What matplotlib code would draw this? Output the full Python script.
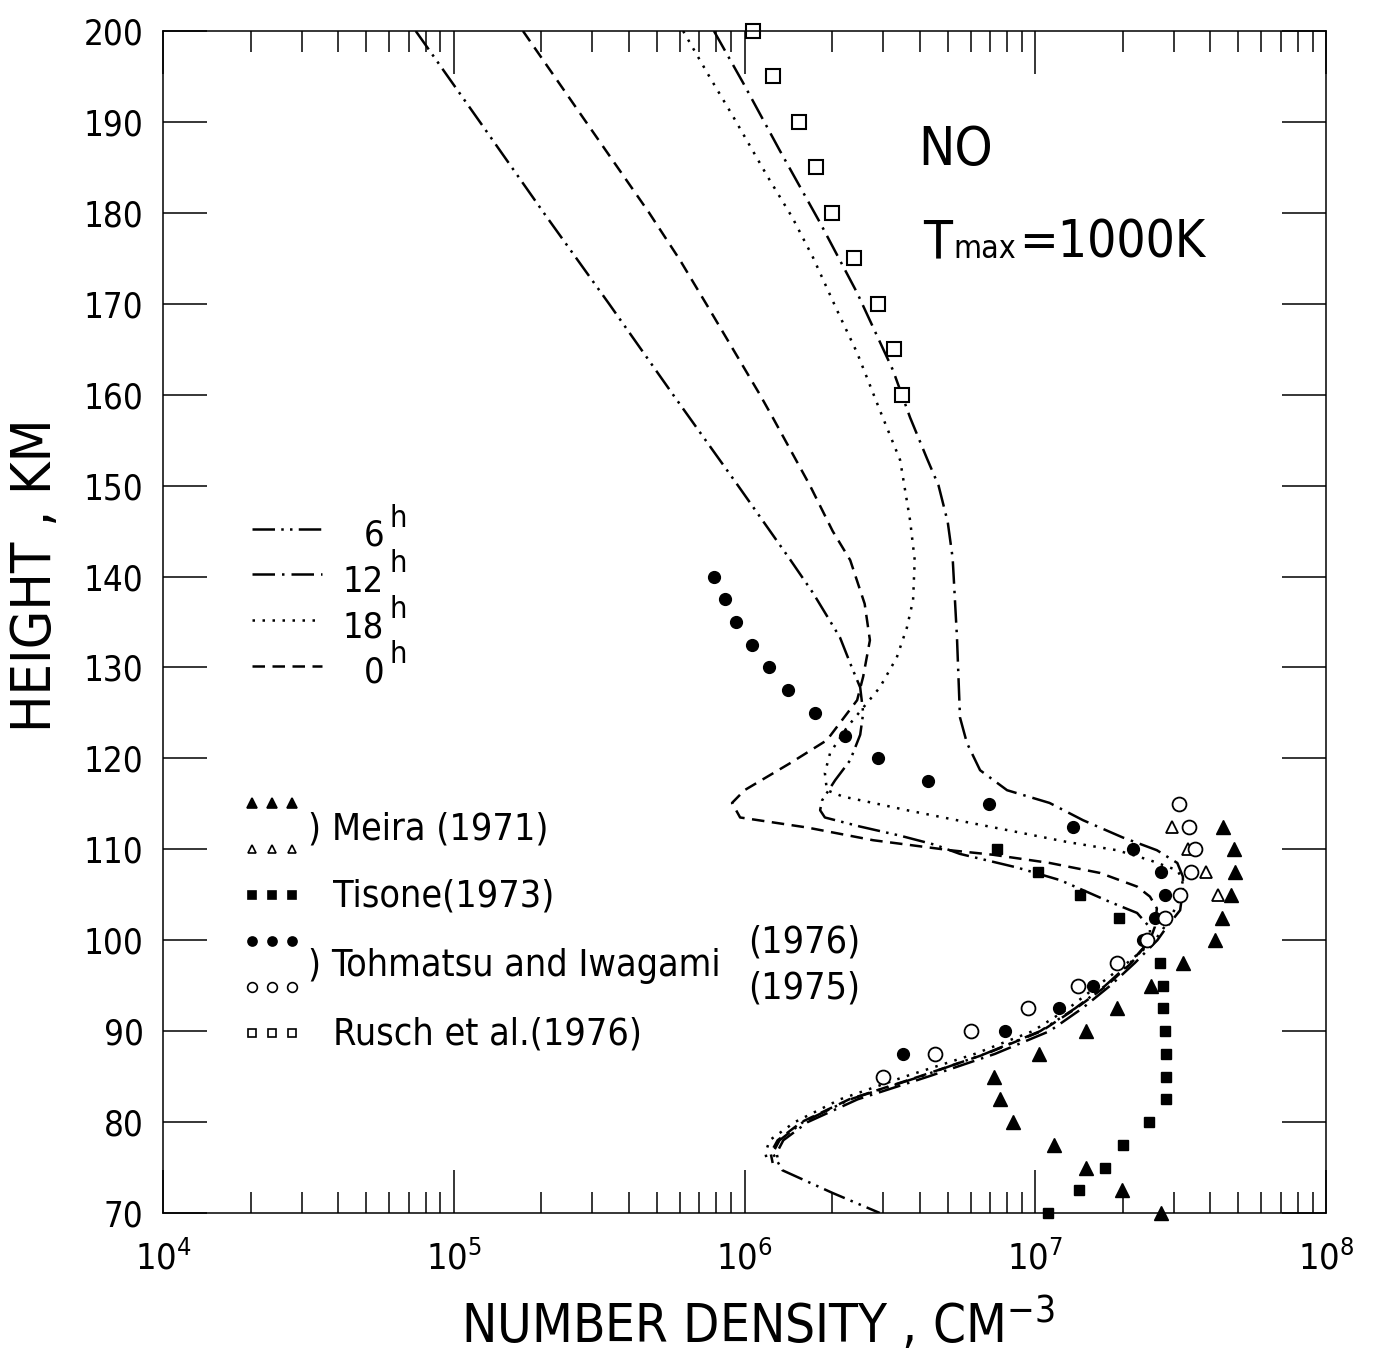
import numpy as np
import matplotlib
matplotlib.use("Agg")
import matplotlib.pyplot as plt
from matplotlib import font_manager

# ---- model NO profiles: height (km) and number density (cm^-3) ----
h_6h = [200, 190, 180, 170, 160, 150, 141.8, 138.2, 133.3, 130, 127.8, 125, 122.6,
        119.8, 117.6, 115.4, 114.3, 113.5, 112.5, 111.5, 110.5, 109.5, 108, 106.6,
        104.2, 103, 101.4, 100, 97.5, 95, 92.5, 90, 87.5, 85, 82.5, 80, 78, 76.6,
        74.7, 72.2, 70]
n_6h = [7.4e4, 1.23e5, 2.04e5, 3.42e5, 5.68e5, 9.5e5, 1.44e6, 1.72e6, 2.13e6, 2.34e6,
        2.5e6, 2.56e6, 2.5e6, 2.31e6, 2.05e6, 1.85e6, 1.82e6, 1.89e6, 2.5e6, 3.43e6,
        4.52e6, 5.5e6, 8.65e6, 1.22e7, 1.81e7, 2.24e7, 2.48e7, 2.48e7, 2.12e7, 1.74e7,
        1.37e7, 1.04e7, 6.71e6, 4.02e6, 2.31e6, 1.59e6, 1.32e6, 1.25e6, 1.35e6, 2.01e6,
        2.92e6]

h_12h = [200, 194.3, 186.9, 178.9, 171.2, 162.7, 157.5, 153, 150, 146, 142, 133.3,
         124.5, 121.7, 118.7, 116.5, 115.1, 113.2, 111.3, 109.9, 108.5, 107, 105.5,
         103.3, 101.5, 100, 97.5, 95, 92.5, 90, 87.5, 85, 82.5, 80, 78, 76.6, 75.5]
n_12h = [7.85e5, 9.89e5, 1.32e6, 1.82e6, 2.44e6, 3.24e6, 3.71e6, 4.24e6, 4.65e6,
         5.0e6, 5.2e6, 5.38e6, 5.51e6, 5.82e6, 6.46e6, 8.0e6, 1.12e7, 1.46e7, 2.0e7,
         2.62e7, 3.08e7, 3.22e7, 3.22e7, 3.15e7, 2.84e7, 2.63e7, 2.2e7, 1.81e7,
         1.45e7, 1.12e7, 7.27e6, 4.28e6, 2.45e6, 1.65e6, 1.36e6, 1.29e6, 1.31e6]

h_18h = [200, 194.9, 190.8, 184, 179.5, 175.1, 169.3, 164.6, 158.3, 152.8, 146.2, 141.8,
         137.4, 134.4, 131.1, 127.8, 126.1, 123.4, 120.6, 118.4, 116.5, 115.8, 115.1,
         114.3, 113.2, 112.1, 110.8, 109.9, 108.8, 108.1, 107.7, 106.6, 104, 102, 100,
         97.5, 95, 92.5, 90, 87.5, 85, 82.5, 80, 78, 76.6, 75.5]
n_18h = [6.15e5, 7.6e5, 9.06e5, 1.2e6, 1.46e6, 1.72e6, 2.08e6, 2.44e6, 2.92e6, 3.43e6,
         3.71e6, 3.85e6, 3.8e6, 3.62e6, 3.34e6, 2.92e6, 2.64e6, 2.25e6, 1.97e6, 1.89e6,
         1.92e6, 2.18e6, 2.77e6, 3.62e6, 5.38e6, 8.05e6, 1.29e7, 1.91e7, 2.48e7, 2.84e7,
         3.08e7, 3.22e7, 3.09e7, 2.86e7, 2.58e7, 2.07e7, 1.64e7, 1.3e7, 9.8e6, 6.2e6,
         3.56e6, 2.13e6, 1.49e6, 1.22e6, 1.18e6, 1.2e6]

h_0h = [200, 190, 180, 174.8, 170, 160, 157.5, 150, 145, 141.8, 137, 133, 129, 126.4,
        122, 119.5, 116.5, 115.1, 113.5, 112.4, 111, 109.9, 109.4, 108.5, 107.4, 105.9,
        104.8, 103.5, 101.5, 100, 97.5, 95, 92.5, 90, 87.5, 85, 82.5, 80, 78, 76.6, 75.5]
n_0h = [1.73e5, 2.85e5, 4.7e5, 6.0e5, 7.38e5, 1.13e6, 1.25e6, 1.68e6, 2.01e6, 2.31e6,
        2.59e6, 2.7e6, 2.56e6, 2.44e6, 1.92e6, 1.44e6, 1.0e6, 9.06e5, 9.66e5, 1.64e6,
        2.77e6, 5.09e6, 7.16e6, 1.12e7, 1.67e7, 2.24e7, 2.48e7, 2.62e7, 2.58e7, 2.48e7,
        2.14e7, 1.76e7, 1.38e7, 1.05e7, 6.76e6, 3.98e6, 2.29e6, 1.57e6, 1.3e6, 1.23e6,
        1.25e6]

# ---- observations ----
h_meira_a = [112.5, 110, 107.5, 105, 102.5, 100, 97.5, 95, 92.5, 90, 87.5, 85, 82.5,
             80, 77.5, 75, 72.5, 70]
n_meira_a = [4.43e7, 4.83e7, 4.86e7, 4.71e7, 4.39e7, 4.15e7, 3.22e7, 2.5e7, 1.91e7,
             1.49e7, 1.03e7, 7.21e6, 7.57e6, 8.38e6, 1.16e7, 1.49e7, 1.99e7, 2.71e7]
h_meira_b = [112.5, 110, 107.5, 105]
n_meira_b = [2.95e7, 3.35e7, 3.86e7, 4.25e7]

h_tisone = [110, 107.5, 105, 102.5, 97.5, 95, 92.5, 90, 87.5, 85, 82.5, 80, 77.5,
            75, 72.5, 70]
n_tisone = [7.38e6, 1.02e7, 1.43e7, 1.94e7, 2.69e7, 2.75e7, 2.76e7, 2.79e7, 2.82e7,
            2.82e7, 2.82e7, 2.46e7, 2.0e7, 1.74e7, 1.41e7, 1.11e7]

h_toh76 = [140, 137.5, 135, 132.5, 130, 127.5, 125, 122.5, 120, 117.5, 115, 112.5, 110,
           107.5, 105, 102.5, 100, 95, 92.5, 90, 87.5]
n_toh76 = [7.85e5, 8.57e5, 9.35e5, 1.06e6, 1.21e6, 1.41e6, 1.75e6, 2.22e6, 2.88e6,
           4.28e6, 6.93e6, 1.35e7, 2.17e7, 2.71e7, 2.79e7, 2.58e7, 2.34e7, 1.58e7,
           1.21e7, 7.87e6, 3.51e6]
h_toh75 = [115, 112.5, 110, 107.5, 105, 102.5, 100, 97.5, 95, 92.5, 90, 87.5, 85]
n_toh75 = [3.12e7, 3.38e7, 3.54e7, 3.44e7, 3.15e7, 2.79e7, 2.42e7, 1.91e7, 1.4e7,
           9.44e6, 6.01e6, 4.52e6, 2.99e6]

h_rusch = [200, 195, 190, 185, 180, 175, 170, 165, 160]
n_rusch = [1.07e6, 1.25e6, 1.54e6, 1.76e6, 2.0e6, 2.38e6, 2.88e6, 3.27e6, 3.48e6]

hours = ["6", "12", "18", "0"]
refs = ["Meira (1971)", "Tisone(1973)", "Tohmatsu and Iwagami", "Rusch et al.(1976)"]

# font: a narrow sans if there is one
names = {f.name for f in font_manager.fontManager.ttflist}
if "Liberation Sans Narrow" in names:
    FAM, STR = "Liberation Sans Narrow", "normal"
else:
    FAM, STR = "DejaVu Sans", "condensed"
plt.rcParams["font.family"] = FAM
plt.rcParams["font.stretch"] = STR
plt.rcParams["mathtext.fontset"] = "custom"
plt.rcParams["mathtext.rm"] = FAM

W, H = 1378, 1355
fig = plt.figure(figsize=(W / 100, H / 100), dpi=100)
ax = fig.add_axes([163 / W, 1 - 1213 / H, (1326 - 163) / W, (1213 - 31) / H])

def fx(px):
    return px / W

def fy(py):
    return 1 - py / H

lw = 1.8
styles = {
    "6": (0, (9, 2.5, 1, 2.5, 1, 2.5)),
    "12": (0, (9, 2.8, 1, 2.8)),
    "18": (0, (1, 3)),
    "0": (0, (5, 3)),
}
ax.plot(n_6h, h_6h, color="k", lw=lw, ls=styles["6"])
ax.plot(n_12h, h_12h, color="k", lw=lw, ls=styles["12"])
ax.plot(n_18h, h_18h, color="k", lw=lw, ls=styles["18"])
ax.plot(n_0h, h_0h, color="k", lw=lw, ls=styles["0"])

kw = dict(ls="none", color="k", clip_on=False)
ax.plot(n_meira_a, h_meira_a, marker="^", ms=10, **kw)
ax.plot(n_meira_b, h_meira_b, marker="^", ms=8.5, mfc="white", mew=1.3, **kw)
ax.plot(n_tisone, h_tisone, marker="s", ms=7.5, **kw)
ax.plot(n_toh76, h_toh76, marker="o", ms=8.5, **kw)
ax.plot(n_toh75, h_toh75, marker="o", ms=10, mfc="white", mew=1.3, **kw)
ax.plot(n_rusch, h_rusch, marker="s", ms=9.5, mfc="white", mew=1.5, **kw)

ax.set_xscale("log")
ax.set_xlim(1e4, 1e8)
ax.set_ylim(70, 200)
ax.set_yticks(np.arange(70, 201, 10))
ax.set_xticks([1e4, 1e5, 1e6, 1e7, 1e8])
ax.set_xticklabels([r"$\mathregular{10^{%d}}$" % k for k in range(4, 9)])
ax.tick_params(axis="both", which="both", direction="in", top=True, right=True,
               width=1.1, color="k")
ax.tick_params(axis="x", which="major", length=31, labelsize=26, pad=20)
ax.tick_params(axis="x", which="minor", length=15)
ax.tick_params(axis="y", which="major", length=32, labelsize=25, pad=14)
ax.tick_params(axis="y", which="minor", length=0)
for s in ax.spines.values():
    s.set_linewidth(1.1)

# axis titles
fig.text(fx(758), fy(1343), r"NUMBER DENSITY , CM$\mathregular{^{-3}}$",
         fontsize=38, ha="center", va="baseline")
fig.text(fx(36), fy(575), "HEIGHT , KM", fontsize=40, rotation=90,
         ha="center", va="center")

# species / temperature
fig.text(fx(918), fy(165), "NO", fontsize=39, ha="left", va="baseline")
r = fig.canvas.get_renderer()
t1 = fig.text(fx(923), fy(258), "T", fontsize=38, ha="left", va="baseline")
x1 = t1.get_window_extent(r).x1
t2 = fig.text(x1 / W + 0.001, fy(258), "max", fontsize=23, ha="left", va="baseline")
x2 = t2.get_window_extent(r).x1
fig.text(x2 / W + 0.002, fy(258), "=1000K", fontsize=37, ha="left", va="baseline")

# line key
for i, hr in enumerate(hours):
    yl = 529 + 45.5 * i
    fig.add_artist(plt.Line2D([fx(252), fx(322)], [fy(yl), fy(yl)], color="k",
                              lw=lw, ls=styles[hr], transform=fig.transFigure))
    fig.text(fx(384), fy(yl + 17), hr, fontsize=26, ha="right", va="baseline")
    fig.text(fx(389), fy(yl - 2), "h", fontsize=22, ha="left", va="baseline")

# symbol key
def key(y, marker, filled, ms):
    for xk in (252, 272, 292):
        fig.add_artist(plt.Line2D([fx(xk)], [fy(y)], marker=marker, ms=ms, color="k",
                                  mfc="k" if filled else "white", mew=1.2, ls="none",
                                  transform=fig.transFigure))

key(803, "^", True, 7)
key(849, "^", False, 6)
key(895, "s", True, 6)
key(941, "o", True, 6.5)
key(987, "o", False, 7)
key(1033, "s", False, 6)
fig.text(fx(308), fy(839), ") " + refs[0], fontsize=27, ha="left", va="baseline")
fig.text(fx(333), fy(906), refs[1], fontsize=27, ha="left", va="baseline")
fig.text(fx(308), fy(976), ") " + refs[2], fontsize=27, ha="left", va="baseline")
fig.text(fx(748), fy(953), "(1976)", fontsize=27, ha="left", va="baseline")
fig.text(fx(748), fy(999), "(1975)", fontsize=27, ha="left", va="baseline")
fig.text(fx(333), fy(1044), refs[3], fontsize=27, ha="left", va="baseline")

fig.savefig("out.png", dpi=100)
